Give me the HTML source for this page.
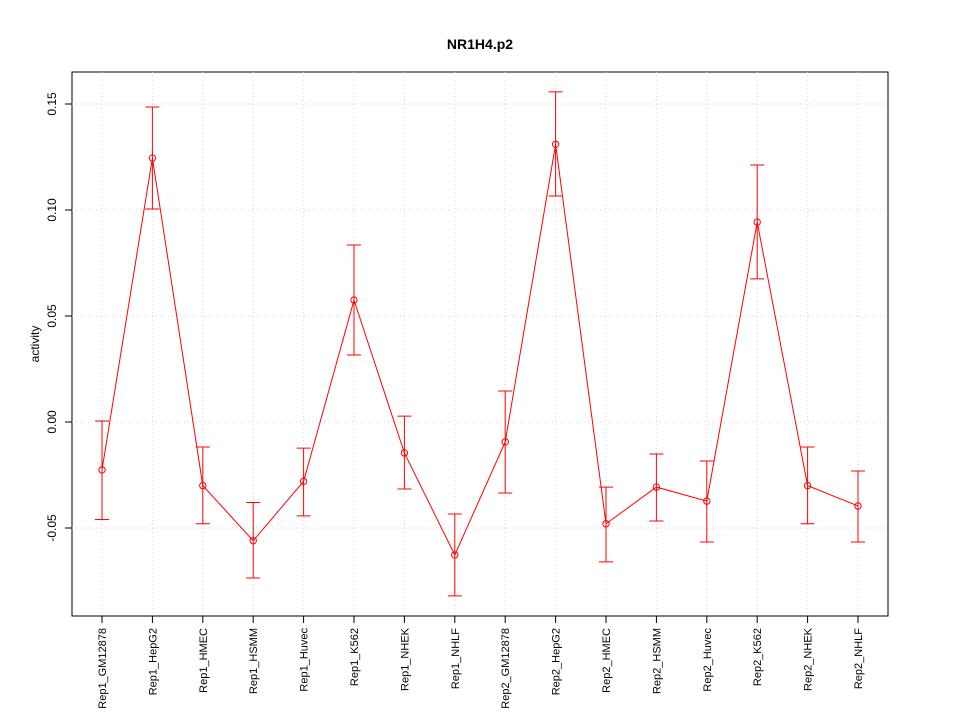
<!DOCTYPE html>
<html><head><meta charset="utf-8"><style>body{margin:0;background:#fff}svg{display:block;font-family:"Liberation Sans",sans-serif}</style></head>
<body>
<svg id="chart" width="960" height="720" xmlns="http://www.w3.org/2000/svg">
<text x="480" y="49" text-anchor="middle" font-size="14" font-weight="bold">NR1H4.p2</text>
<text transform="translate(39,344) rotate(-90)" text-anchor="middle" font-size="12">activity</text>
<rect x="72" y="72" width="816" height="544" fill="none" stroke="#000"/>
<g id="grid"></g><g id="axes"></g><g id="series"></g>
</svg>
<script>
const categories=["Rep1_GM12878","Rep1_HepG2","Rep1_HMEC","Rep1_HSMM","Rep1_Huvec","Rep1_K562","Rep1_NHEK","Rep1_NHLF","Rep2_GM12878","Rep2_HepG2","Rep2_HMEC","Rep2_HSMM","Rep2_Huvec","Rep2_K562","Rep2_NHEK","Rep2_NHLF"];
const values=[-0.0226,0.1245,-0.030,-0.056,-0.028,0.0575,-0.0146,-0.0627,-0.0094,0.131,-0.048,-0.0307,-0.0373,0.0943,-0.030,-0.0396];
const upper=[0.0005,0.1486,-0.0118,-0.038,-0.0123,0.0835,0.0028,-0.0434,0.0146,0.1557,-0.0307,-0.0151,-0.0184,0.1212,-0.0118,-0.0231];
const lower=[-0.046,0.1005,-0.048,-0.0736,-0.0443,0.0316,-0.0316,-0.082,-0.0335,0.1066,-0.066,-0.0467,-0.0566,0.0675,-0.048,-0.0566];
const yTicks=[-0.05,0,0.05,0.10,0.15];
const yTickLabels=["-0.05","0.00","0.05","0.10","0.15"];
const NS="http://www.w3.org/2000/svg";
const X=i=>102+i*(756/(categories.length-1));
const Y=v=>422-v*2120;
function mk(p,t,a){const e=document.createElementNS(NS,t);for(const k in a)e.setAttribute(k,a[k]);document.getElementById(p).appendChild(e);return e;}
yTicks.forEach((t,i)=>{
 const g=mk("grid","line",{x1:72,x2:888,y1:Y(t),y2:Y(t),stroke:"#d3d3d3","stroke-dasharray":"1,3"});
 
 
 const tk=mk("axes","line",{x1:65,x2:72,y1:Y(t),y2:Y(t),stroke:"#000"});
 
 
 const l=mk("axes","text",{transform:`translate(56,${Y(t)}) rotate(-90)`,"text-anchor":"middle","font-size":"12"});
 l.textContent=yTickLabels[i];
 
 
});
categories.forEach((c,i)=>{
 const x=X(i);
 const g=mk("grid","line",{x1:x,x2:x,y1:72,y2:616,stroke:"#d3d3d3","stroke-dasharray":"1,3"});
 
 
 const tk=mk("axes","line",{x1:x,x2:x,y1:616,y2:623,stroke:"#000"});
 
 
 const l=mk("axes","text",{transform:`translate(${x+4},628) rotate(-90)`,"text-anchor":"end","font-size":"11"});
 l.textContent=c;
 
 
});
const ln=mk("series","polyline",{points:values.map((v,i)=>X(i)+","+Y(v)).join(" "),fill:"none",stroke:"#f00"});


values.forEach((v,i)=>{
 const x=X(i);
 const e=mk("series","path",{d:`M${x},${Y(upper[i])}V${Y(lower[i])}M${x-7},${Y(upper[i])}H${x+7}M${x-7},${Y(lower[i])}H${x+7}`,stroke:"#f00",fill:"none"});
 
 
 const p=mk("series","circle",{cx:x,cy:Y(v),r:3.2,fill:"none",stroke:"#f00"});
 
 
});
</script>
</body></html>
